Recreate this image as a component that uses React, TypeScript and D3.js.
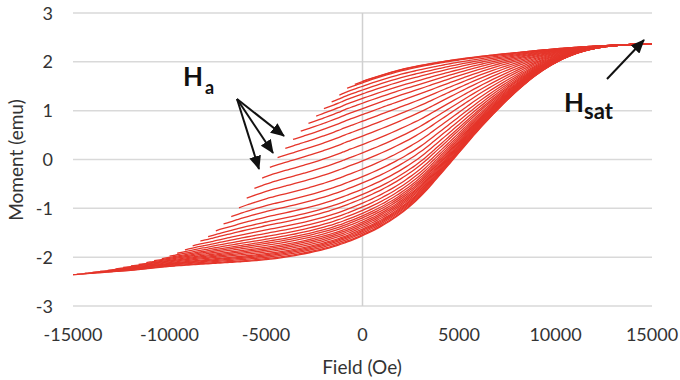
import React from 'react';
import * as d3 from 'd3';

// Major ascending branch
const ascField = [-15000, -14000, -13000, -12000, -11000, -10000, -9000, -8000, -7000, -6000, -5000, -4000, -3000, -2000, -1000, 0, 1000, 2000, 3000, 4000, 5000, 6000, 7000, 8000, 9000, 10000, 11000, 12000, 13000, 14000, 15000];
const ascMoment = [-2.36, -2.33, -2.3, -2.27, -2.23, -2.19, -2.16, -2.135, -2.11, -2.085, -2.05, -2.0, -1.93, -1.84, -1.72, -1.56, -1.36, -1.1, -0.76, -0.32, 0.14, 0.6, 1.02, 1.4, 1.73, 1.98, 2.16, 2.27, 2.33, 2.355, 2.37];

// Upper curve for positive fields (the top curve)
const upperField = [0, 1000, 2000, 3000, 4000, 5000, 6000, 7000, 8000, 9000, 10000, 11000, 12000, 13000, 14000, 15000];
const upperMoment = [1.6, 1.73, 1.84, 1.925, 1.995, 2.055, 2.105, 2.15, 2.19, 2.23, 2.265, 2.295, 2.32, 2.34, 2.357, 2.37];

// Reversal fields Ha and the moment where each first-order reversal curve starts
const reversalFields = [0, -400, -800, -1200, -1600, -2000, -2400, -2800, -3200, -3600, -4000, -4400, -4800, -5200, -5600, -6000, -6400, -6800, -7200, -7600, -8000, -8400, -8800, -9200, -9600, -10000, -10400, -10800, -11200, -11600, -12000, -12400, -12800, -13200, -13600, -14000, -14400, -14800];
const reversalMoments = [1.6, 1.54, 1.46, 1.32, 1.18, 1.04, 0.89, 0.74, 0.58, 0.41, 0.23, 0.04, -0.16, -0.38, -0.59, -0.79, -0.99, -1.17, -1.32, -1.46, -1.58, -1.67, -1.77, -1.85, -1.92, -1.98, -2.03, -2.07, -2.11, -2.15, -2.18, -2.21, -2.24, -2.27, -2.29, -2.31, -2.33, -2.35];

const xTicks = [-15000, -10000, -5000, 0, 5000, 10000, 15000];
const yTicks = [-3, -2, -1, 0, 1, 2, 3];

const W = 680;
const H = 380;

// monotone cubic (Fritsch-Carlson) interpolation through read points
function monotone(xs: number[], ys: number[]) {
  const n = xs.length;
  const d: number[] = [];
  for (let k = 0; k < n - 1; k++) d.push((ys[k + 1] - ys[k]) / (xs[k + 1] - xs[k]));
  const m: number[] = new Array(n).fill(0);
  m[0] = d[0];
  m[n - 1] = d[n - 2];
  for (let k = 1; k < n - 1; k++) m[k] = d[k - 1] * d[k] <= 0 ? 0 : (d[k - 1] + d[k]) / 2;
  for (let k = 0; k < n - 1; k++) {
    if (d[k] === 0) {
      m[k] = 0;
      m[k + 1] = 0;
      continue;
    }
    const a = m[k] / d[k];
    const b = m[k + 1] / d[k];
    const s = a * a + b * b;
    if (s > 9) {
      const t = 3 / Math.sqrt(s);
      m[k] = t * a * d[k];
      m[k + 1] = t * b * d[k];
    }
  }
  return (x: number) => {
    if (x <= xs[0]) return ys[0];
    if (x >= xs[n - 1]) return ys[n - 1];
    let k = d3.bisectRight(xs, x) - 1;
    if (k >= n - 1) k = n - 2;
    const h = xs[k + 1] - xs[k];
    const t = (x - xs[k]) / h;
    const t2 = t * t;
    const t3 = t2 * t;
    return (2 * t3 - 3 * t2 + 1) * ys[k] + (t3 - 2 * t2 + t) * h * m[k] + (-2 * t3 + 3 * t2) * ys[k + 1] + (t3 - t2) * h * m[k + 1];
  };
}

export default function App() {
  const x = d3.scaleLinear().domain([-15000, 15000]).range([73, 652]);
  const y = d3.scaleLinear().domain([-3, 3]).range([306, 13]);

  // descending branch: start points (negative fields) + upper curve (positive fields)
  const descF = reversalFields.slice().reverse().concat(upperField.slice(1));
  const descM = reversalMoments.slice().reverse().concat(upperMoment.slice(1));
  const U = monotone(descF, descM);
  const A = monotone(ascField, ascMoment);

  // reversible share of the descending branch near zero field
  const rho0 = (U(0) - U(-100)) / 100;
  const L = 4000;
  const R = (f: number) => (f >= 0 ? 0 : f <= -L ? (-rho0 * L) / 2 : rho0 * (f + (f * f) / (2 * L)));
  const irrMin = ascMoment[0] - R(-15000);
  const irr0 = U(0);
  const psi = (f: number) => (f >= 0 ? 1 : Math.max(1e-6, (U(f) - R(f) - irrMin) / (irr0 - irrMin)));
  const gamma = 0.85;

  const grid = d3.range(-15000, 15001, 250);

  const line = d3
    .line<[number, number]>()
    .x((d) => x(d[0]))
    .y((d) => y(d[1]))
    .curve(d3.curveMonotoneX);

  const curves: [number, number][][] = [];
  curves.push(grid.map((f) => [f, A(f)] as [number, number]));
  reversalFields.forEach((ha, k) => {
    const m0 = reversalMoments[k];
    const pHa = psi(ha);
    const pts: [number, number][] = [[ha, m0]];
    grid.forEach((f) => {
      if (f > ha + 100) {
        const ma = A(f);
        const mu = U(f);
        const r = Math.pow(Math.min(1, pHa / psi(f)), gamma);
        pts.push([f, ma + (mu - ma) * r]);
      }
    });
    curves.push(pts);
  });

  const font = 'Lato, "Open Sans", sans-serif';

  return (
    <svg width={W} height={H} style={{ position: 'absolute', left: 0, top: 0, background: '#fff' }}>
      <defs>
        <marker id="ah" viewBox="0 0 14 12" refX="13" refY="6" markerWidth="14" markerHeight="12" markerUnits="userSpaceOnUse" orient="auto">
          <path d="M0,0 L14,6 L0,12 Z" fill="#111" />
        </marker>
      </defs>
      {yTicks.map((t) => (
        <line key={'g' + t} x1={73} x2={652} y1={y(t)} y2={y(t)} stroke="#d9d9d9" strokeWidth={1.5} />
      ))}
      <line x1={x(0)} x2={x(0)} y1={y(3)} y2={y(-3)} stroke="#d0d0d0" strokeWidth={1.5} />
      {yTicks.map((t) => (
        <text key={'yt' + t} x={53} y={y(t) + 6.5} textAnchor="end" fontFamily={font} fontSize={18} fill="#333">
          {t}
        </text>
      ))}
      {xTicks.map((t) => (
        <text key={'xt' + t} x={x(t)} y={341} textAnchor="middle" fontFamily={font} fontSize={18} fill="#333">
          {t}
        </text>
      ))}
      <text x={362} y={374} textAnchor="middle" fontFamily={font} fontSize={19} fill="#333">
        Field (Oe)
      </text>
      <text transform={`translate(23,160) rotate(-90)`} textAnchor="middle" fontFamily={font} fontSize={19} fill="#333">
        Moment (emu)
      </text>
      <g fill="none" stroke="#e5352a" strokeWidth={1.3}>
        {curves.map((c, i) => (
          <path key={'c' + i} d={line(c) || ''} />
        ))}
      </g>
      <g stroke="#111" strokeWidth={2} markerEnd="url(#ah)">
        <line x1={237} y1={99} x2={284} y2={136} />
        <line x1={237} y1={99} x2={273} y2={153} />
        <line x1={237} y1={99} x2={259} y2={169} />
        <line x1={607} y1={79} x2={644} y2={40} />
      </g>
      <text x={183} y={86} fontFamily={font} fontWeight="bold" fontSize={26} fill="#111">
        H
      </text>
      <text x={205} y={94} fontFamily={font} fontWeight="bold" fontSize={18} fill="#111">
        a
      </text>
      <text x={564} y={112} fontFamily={font} fontWeight="bold" fontSize={26} fill="#111">
        H
      </text>
      <text x={584} y={119} fontFamily={font} fontWeight="bold" fontSize={22} fill="#111">
        sat
      </text>
    </svg>
  );
}
